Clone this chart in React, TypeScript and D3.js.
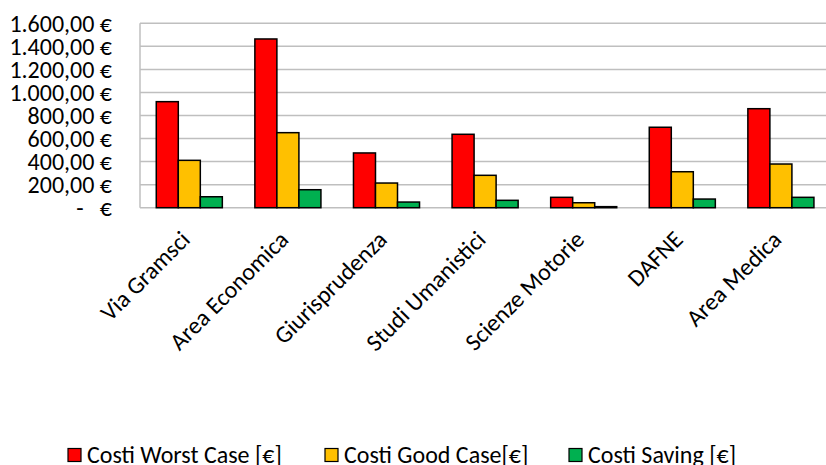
import React from "react";
import * as d3 from "d3";

const categories = ["Via Gramsci", "Area Economica", "Giurisprudenza", "Studi Umanistici", "Scienze Motorie", "DAFNE", "Area Medica"];
const seriesNames = ["Costi Worst Case [€]", "Costi Good Case[€]", "Costi Saving [€]"];
const worstCase = [920, 1464, 475, 637, 90, 698, 859];
const goodCase = [411, 651, 214, 281, 43, 312, 379];
const saving = [95, 156, 49, 64, 9, 75, 90];
const yTicks = [0, 200, 400, 600, 800, 1000, 1200, 1400, 1600];
const colors = ["#FF0000", "#FFC000", "#00B050"];

const W = 826;
const H = 465;
const FONT = "Carlito, Calibri, Lato, sans-serif";
const FS = 24;

function fmt(v: number): string {
  if (v === 0) return "";
  const s = d3.format(",.2f")(v);
  return s.replace(/,/g, "#").replace(/\./g, ",").replace(/#/g, ".") + " €";
}

export default function App() {
  const left = 140, right = 830.2, top = 23.3, bottom = 207.7;
  const x = d3.scaleBand<string>().domain(categories).range([left, right]).paddingInner(0.33).paddingOuter(0.165);
  const xs = d3.scaleBand<string>().domain(seriesNames).range([0, x.bandwidth()]).padding(0);
  const y = d3.scaleLinear().domain([0, 1600]).range([bottom, top]);
  const data = [worstCase, goodCase, saving];

  const legendItems = [
    { x: 68, name: seriesNames[0] },
    { x: 325, name: seriesNames[1] },
    { x: 569, name: seriesNames[2] },
  ];

  return (
    <svg width={W} height={H} style={{ position: "absolute", left: 0, top: 0, background: "#fff" }} fontFamily={FONT}>
      {yTicks.map((t) => (
        <line key={t} x1={left} x2={right} y1={y(t)} y2={y(t)} stroke="#BFBFBF" strokeWidth={1.5} />
      ))}
      <line x1={left} x2={left} y1={top} y2={bottom} stroke="#BFBFBF" strokeWidth={1.5} />
      {yTicks.map((t) =>
        t === 0 ? (
          <g key={t}>
            <text x={80} y={y(t)} dy="0.35em" textAnchor="middle" fontSize={FS} fill="#000">-</text>
            <text x={112} y={y(t)} dy="0.35em" textAnchor="end" fontSize={FS} fill="#000">€</text>
          </g>
        ) : (
          <text key={t} x={112} y={y(t)} dy="0.35em" textAnchor="end" fontSize={FS} fill="#000">
            {fmt(t)}
          </text>
        )
      )}
      {data.map((series, si) =>
        series.map((v, ci) => {
          const bx = (x(categories[ci]) as number) + (xs(seriesNames[si]) as number);
          return (
            <rect
              key={`${si}-${ci}`}
              x={bx}
              y={y(v)}
              width={xs.bandwidth()}
              height={bottom - y(v)}
              fill={colors[si]}
              stroke="#000"
              strokeWidth={1.5}
            />
          );
        })
      )}
      {categories.map((c) => {
        const cx = (x(c) as number) + x.bandwidth() / 2;
        return (
          <text key={c} transform={`translate(${cx + 2},${241}) rotate(-45)`} textAnchor="end" fontSize={FS} fill="#000">
            {c}
          </text>
        );
      })}
      {legendItems.map((it, i) => (
        <g key={it.name}>
          <rect x={it.x} y={448.5} width={13} height={13} fill={colors[i]} stroke="#000" strokeWidth={1.2} />
          <text x={it.x + 19} y={462.5} fontSize={FS} fill="#000">{it.name}</text>
        </g>
      ))}
    </svg>
  );
}
